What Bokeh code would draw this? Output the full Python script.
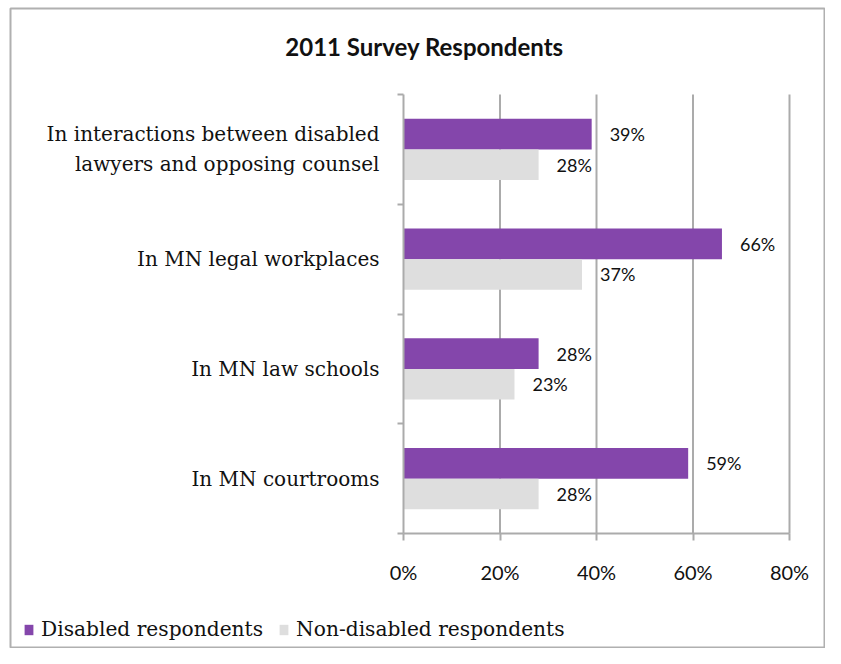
from bokeh.plotting import figure
from bokeh.models import (ColumnDataSource, FixedTicker, Label, LabelSet, Legend, LegendItem,
                          PrintfTickFormatter, Range1d)
from bokeh.core.properties import value
from bokeh.embed import file_html
from bokeh.resources import INLINE

# ---- data ----
categories = [
    "In interactions between disabled\nlawyers and opposing counsel",
    "In MN legal workplaces",
    "In MN law schools",
    "In MN courtrooms",
]
disabled = [39, 66, 28, 59]
non_disabled = [28, 37, 23, 28]
x_ticks = [0, 20, 40, 60, 80]
series_names = ["Disabled respondents", "Non-disabled respondents"]
title_text = "2011 Survey Respondents"

# ---- styles / layout (pixels) ----
PURPLE = "#8446AB"
GREY = "#DEDEDE"
LINE = "#ABABAB"
FRAME = "#B0B0B0"
SANS = "Lato"
SERIF = "DejaVu Serif"
W, H = 825, 648
F_L, F_T, F_R, F_B = 10, 8, 824, 647          # drawing frame edges on the canvas
AX_L, AX_R, AX_T, AX_B = 403, 789, 94, 533    # where the axes sit on the canvas

n = len(categories)
centers = [n - i - 0.5 for i in range(n)]
bar_h = 0.28

# data ranges chosen so the axes land on the pixel positions above
x_lo, x_hi = x_ticks[0], x_ticks[-1]
kx = (AX_R - AX_L) / (x_hi - x_lo)
ky = (AX_B - AX_T) / n
x_range = Range1d(x_lo - (AX_L - F_L) / kx, x_hi + (F_R - AX_R) / kx)
y_range = Range1d(0 - (F_B - AX_B) / ky, n + (AX_T - F_T) / ky)

src = ColumnDataSource(dict(
    cat=categories,
    y_dis=[c + bar_h / 2 for c in centers],
    y_non=[c - bar_h / 2 for c in centers],
    dis=disabled,
    non=non_disabled,
    dis_lbl=[f"{v}%" for v in disabled],
    non_lbl=[f"{v}%" for v in non_disabled],
))
grid_src = ColumnDataSource(dict(x=x_ticks[1:], y0=[0] * (len(x_ticks) - 1),
                                 y1=[n] * (len(x_ticks) - 1)))

p = figure(width=W, height=H, output_backend="svg", toolbar_location=None,
           x_range=x_range, y_range=y_range,
           min_border_left=F_L, min_border_top=F_T,
           min_border_right=W - F_R, min_border_bottom=H - F_B)
p.outline_line_color = FRAME
p.outline_line_width = 2
p.background_fill_color = "white"
p.border_fill_color = "white"
p.xgrid.visible = False
p.ygrid.visible = False

# vertical grid lines at the x ticks, between the category bounds
p.segment(x0="x", y0="y0", x1="x", y1="y1", source=grid_src,
          line_color=LINE, line_width=2)

r_dis = p.hbar(y="y_dis", right="dis", left=0, height=bar_h, source=src,
               fill_color=PURPLE, line_color=None)
r_non = p.hbar(y="y_non", right="non", left=0, height=bar_h, source=src,
               fill_color=GREY, line_color=None)

for col, ycol in (("dis", "y_dis"), ("non", "y_non")):
    p.add_layout(LabelSet(x=col, y=ycol, text=col + "_lbl", source=src,
                          x_offset=18, text_baseline="middle",
                          text_font=value(SANS), text_font_size=value("18px"),
                          text_color=value("#111111")))

# title
p.add_layout(Label(x=424 - F_L, y=F_B - 46, x_units="screen", y_units="screen",
                   text=title_text, text_align="center", text_baseline="middle",
                   text_font=SANS, text_font_style="bold", text_font_size="24px",
                   text_color="#111111"))

# x axis
xa = p.xaxis[0]
xa.fixed_location = 0
xa.bounds = (x_lo, x_hi)
xa.ticker = FixedTicker(ticks=x_ticks, minor_ticks=[])
xa.formatter = PrintfTickFormatter(format="%d%%")
xa.major_tick_out = 7
xa.major_tick_in = 0
xa.minor_tick_line_color = None
xa.axis_line_color = LINE
xa.axis_line_width = 2
xa.major_tick_line_color = LINE
xa.major_tick_line_width = 2
xa.major_label_text_font = SANS
xa.major_label_text_font_size = "20px"
xa.major_label_text_color = "#111111"
xa.major_label_standoff = 19

# y axis
ya = p.yaxis[0]
ya.fixed_location = 0
ya.bounds = (0, n)
ya.ticker = FixedTicker(ticks=centers, minor_ticks=list(range(n + 1)))
ya.major_label_overrides = {c: cat for c, cat in zip(centers, categories)}
ya.major_tick_out = 0
ya.major_tick_in = 0
ya.minor_tick_out = 6
ya.minor_tick_in = 0
ya.minor_tick_line_color = LINE
ya.minor_tick_line_width = 2
ya.axis_line_color = LINE
ya.axis_line_width = 2
ya.major_label_text_font = SERIF
ya.major_label_text_font_size = "20px"
ya.major_label_text_color = "#111111"
ya.major_label_text_line_height = 1.25
ya.major_label_standoff = 18

legend = Legend(items=[LegendItem(label=series_names[0], renderers=[r_dis]),
                       LegendItem(label=series_names[1], renderers=[r_non])],
                orientation="horizontal", location=(23 - F_L, 6),
                label_text_font=SERIF, label_text_font_size="20.2px",
                label_text_color="#111111", label_height=24,
                glyph_width=11, glyph_height=13, label_standoff=7, spacing=15,
                padding=0, margin=0, border_line_color=None,
                background_fill_alpha=0)
p.add_layout(legend, "center")

open("out.html", "w").write(file_html(p, INLINE))
